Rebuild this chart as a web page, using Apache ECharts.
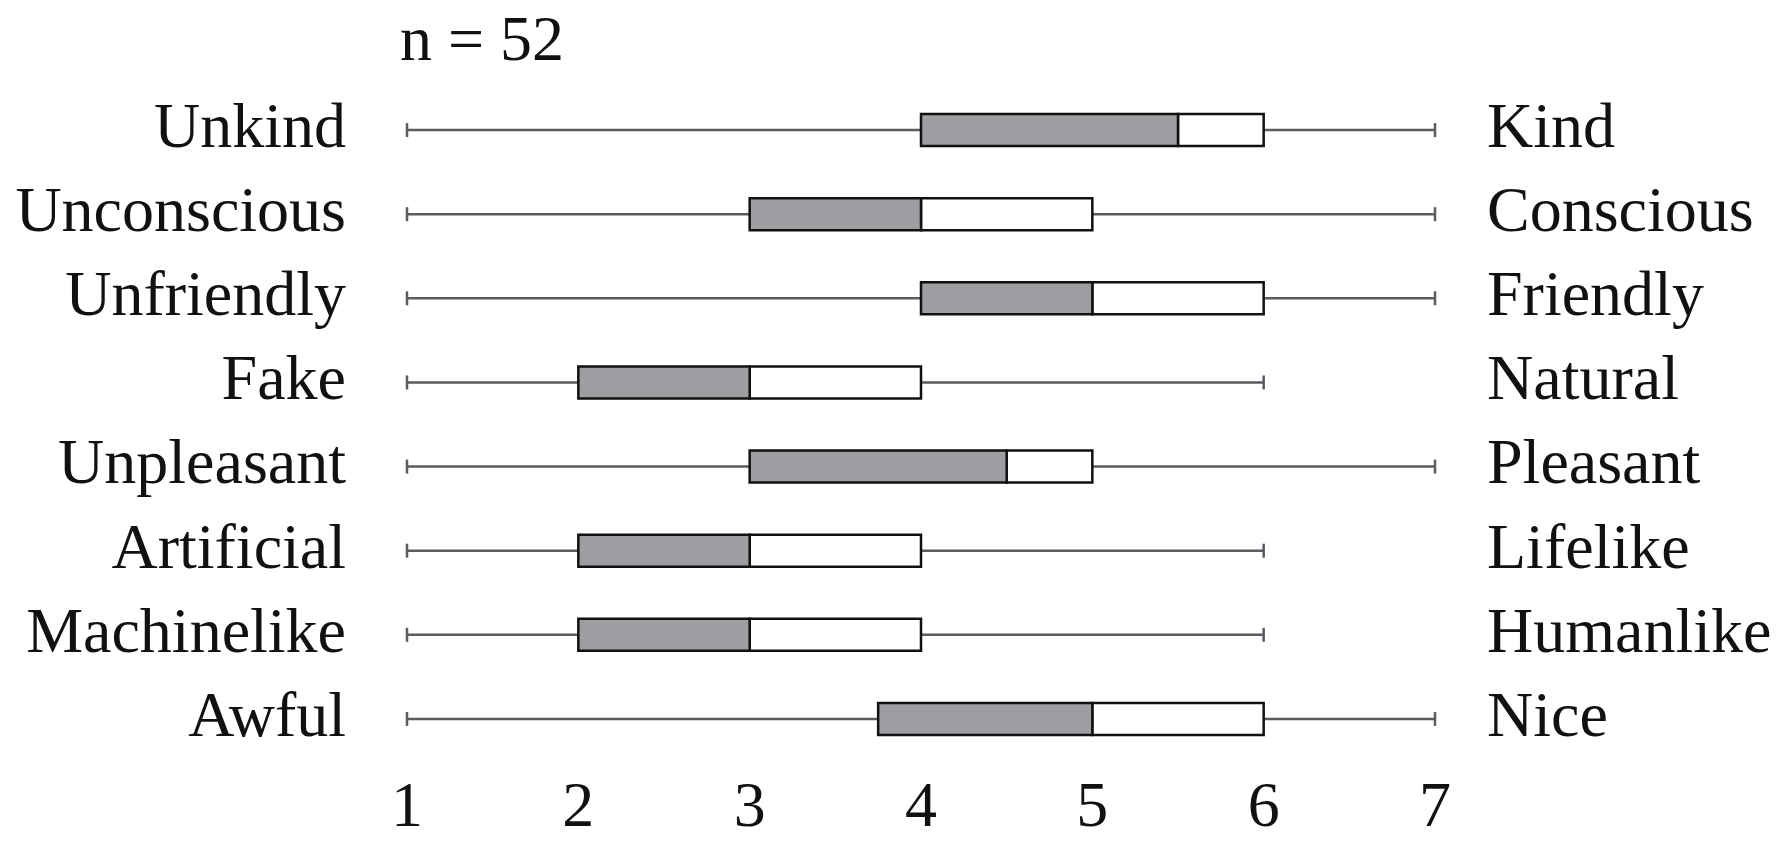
<!DOCTYPE html>
<html>
<head>
<meta charset="utf-8">
<script src="https://cdn.jsdelivr.net/npm/echarts@6/dist/echarts.min.js"></script>
<style>
    html, body { margin: 0; padding: 0; background: #fff; }
    #echart { width: 1782px; height: 846px; }
</style>
</head>
<body>
<div id="echart"></div>
<script>
// 语义差异量表箱线图 (n = 52)
var leftWords = ['Unkind', 'Unconscious', 'Unfriendly', 'Fake', 'Unpleasant', 'Artificial', 'Machinelike', 'Awful'];
var rightWords = ['Kind', 'Conscious', 'Friendly', 'Natural', 'Pleasant', 'Lifelike', 'Humanlike', 'Nice'];
var mins = [1, 1, 1, 1, 1, 1, 1, 1];
var q1s = [4, 3, 4, 2, 3, 2, 2, 3.75];
var medians = [5.5, 4, 5, 3, 4.5, 3, 3, 5];
var q3s = [6, 5, 6, 4, 5, 4, 4, 6];
var maxs = [7, 7, 7, 6, 7, 6, 6, 7];
var ticks = [1, 2, 3, 4, 5, 6, 7];

var font = 'Liberation Serif';

var boxData = [];
for (var i = 0; i < leftWords.length; i++) {
    boxData.push([i, mins[i], q1s[i], medians[i], q3s[i], maxs[i]]);
}

function renderBox(params, api) {
    var row = api.value(0);
    var pMin = api.coord([api.value(1), row]);
    var pQ1 = api.coord([api.value(2), row]);
    var pMed = api.coord([api.value(3), row]);
    var pQ3 = api.coord([api.value(4), row]);
    var pMax = api.coord([api.value(5), row]);
    var band = api.size([0, 1])[1];
    var h = band * 0.38;
    var cap = 7;
    var y = pMin[1];
    var whisker = {stroke: '#5b5b61', lineWidth: 2.5};
    return {
        type: 'group',
        children: [
            {type: 'line', shape: {x1: pMin[0], y1: y, x2: pMax[0], y2: y}, style: whisker},
            {type: 'line', shape: {x1: pMin[0], y1: y - cap, x2: pMin[0], y2: y + cap}, style: whisker},
            {type: 'line', shape: {x1: pMax[0], y1: y - cap, x2: pMax[0], y2: y + cap}, style: whisker},
            {type: 'rect', shape: {x: pMed[0], y: y - h / 2, width: pQ3[0] - pMed[0], height: h},
                style: {fill: '#fff', stroke: '#111', lineWidth: 2.5}},
            {type: 'rect', shape: {x: pQ1[0], y: y - h / 2, width: pMed[0] - pQ1[0], height: h},
                style: {fill: '#9d9ea2', stroke: '#111', lineWidth: 2.5}}
        ]
    };
}

var Echart = echarts.init(document.getElementById('echart'));
var option = {
    backgroundColor: '#fff',
    animation: false,
    title: {
        text: 'n = 52',
        left: 395,
        top: 6,
        textStyle: {fontFamily: font, fontWeight: 'normal', fontSize: 64, color: '#111'}
    },
    grid: {left: 407, right: 347, top: 88, bottom: 85},
    xAxis: {
        type: 'value',
        min: 1,
        max: 7,
        interval: 1,
        axisLine: {show: false},
        axisTick: {show: false},
        splitLine: {show: false},
        axisLabel: {
            margin: 16,
            fontFamily: font,
            fontSize: 64,
            color: '#111',
            formatter: function (v) {
                return ticks.indexOf(v) >= 0 ? String(v) : '';
            }
        }
    },
    yAxis: [{
        type: 'category',
        data: leftWords,
        inverse: true,
        position: 'left',
        axisLine: {show: false},
        axisTick: {show: false},
        axisLabel: {margin: 61, fontFamily: font, fontSize: 64, color: '#111'}
    }, {
        type: 'category',
        data: rightWords,
        inverse: true,
        position: 'right',
        axisLine: {show: false},
        axisTick: {show: false},
        axisLabel: {margin: 52, padding: [8, 0, 0, 0], fontFamily: font, fontSize: 64, color: '#111'}
    }],
    series: [{
        type: 'custom',
        renderItem: renderBox,
        encode: {x: [1, 2, 3, 4, 5], y: 0},
        data: boxData
    }]
};
Echart.setOption(option);
</script>
</body>
</html>
